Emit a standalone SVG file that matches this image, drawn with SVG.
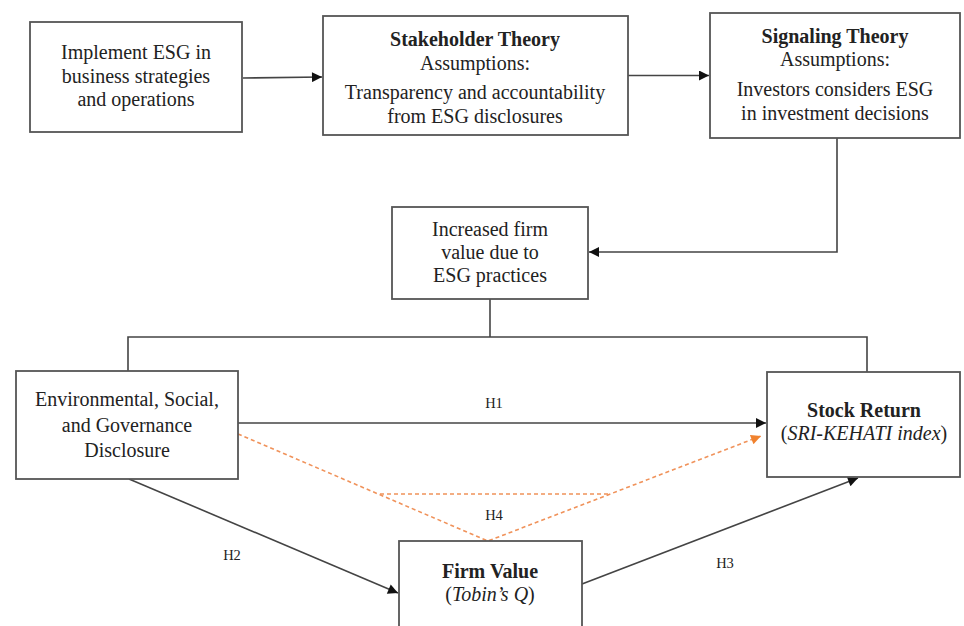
<svg xmlns="http://www.w3.org/2000/svg" width="964" height="626" viewBox="0 0 964 626">
<defs>
<style>
.box{fill:#fff;stroke:#555;stroke-width:1.8}
.t{font-family:"Liberation Serif","Times New Roman",serif;font-size:20px;fill:#222;text-anchor:middle}
.b{font-weight:bold}
.i{font-style:italic}
.h{font-family:"Liberation Serif","Times New Roman",serif;font-size:14.5px;fill:#222;text-anchor:middle}
.ln{fill:none;stroke:#444;stroke-width:1.6}
.dl{fill:none;stroke:#f0925a;stroke-width:1.6;stroke-dasharray:4 3}
</style>
<marker id="ab" viewBox="0 0 10 10" refX="10" refY="5" markerWidth="11" markerHeight="10" markerUnits="userSpaceOnUse" orient="auto"><path d="M0,0 L10,5 L0,10 z" fill="#111"/></marker>
<marker id="ao" viewBox="0 0 10 10" refX="10" refY="5" markerWidth="11" markerHeight="10" markerUnits="userSpaceOnUse" orient="auto"><path d="M0,0 L10,5 L0,10 z" fill="#f0822e"/></marker>
</defs>
<rect width="964" height="626" fill="#fff"/>
<g id="connectors">
<line class="ln" x1="243" y1="78" x2="322" y2="77" marker-end="url(#ab)"/>
<line class="ln" x1="628" y1="75.5" x2="709" y2="75.5" marker-end="url(#ab)"/>
<polyline class="ln" points="837,138 837,252 589,252" marker-end="url(#ab)"/>
<polyline class="ln" points="490,299 490,337"/>
<polyline class="ln" points="128,371 128,337 867,337 867,372"/>
<line class="ln" x1="238" y1="423" x2="766" y2="423" marker-end="url(#ab)"/>
<polyline class="dl" points="238,434 488,541 761,436" marker-end="url(#ao)"/>
<line class="dl" x1="380" y1="494" x2="608" y2="494"/>
<line class="ln" x1="129" y1="479" x2="398" y2="593" marker-end="url(#ab)"/>
<line class="ln" x1="582" y1="584" x2="858" y2="478" marker-end="url(#ab)"/>
<text class="h" x="494" y="408">H1</text>
<text class="h" x="494" y="520">H4</text>
<text class="h" x="232" y="560">H2</text>
<text class="h" x="725" y="568">H3</text>
</g>
<g id="n1">
<rect class="box" x="30" y="22" width="212" height="110"/>
<text class="t" x="136" y="59">Implement ESG in</text>
<text class="t" x="136" y="83">business strategies</text>
<text class="t" x="136" y="106">and operations</text>
</g>
<g id="n2">
<rect class="box" x="323" y="16" width="305" height="119"/>
<text class="t b" x="475" y="46">Stakeholder Theory</text>
<text class="t" x="475" y="70">Assumptions:</text>
<text class="t" x="475" y="99">Transparency and accountability</text>
<text class="t" x="475" y="123">from ESG disclosures</text>
</g>
<g id="n3">
<rect class="box" x="710" y="13" width="250" height="125"/>
<text class="t b" x="835" y="43">Signaling Theory</text>
<text class="t" x="835" y="66">Assumptions:</text>
<text class="t" x="835" y="96">Investors considers ESG</text>
<text class="t" x="835" y="120">in investment decisions</text>
</g>
<g id="n4">
<rect class="box" x="392" y="207" width="196" height="92"/>
<text class="t" x="490" y="236">Increased firm</text>
<text class="t" x="490" y="259">value due to</text>
<text class="t" x="490" y="282">ESG practices</text>
</g>
<g id="n5">
<rect class="box" x="16" y="371" width="222" height="108"/>
<text class="t" x="127" y="406">Environmental, Social,</text>
<text class="t" x="127" y="432">and Governance</text>
<text class="t" x="127" y="457">Disclosure</text>
</g>
<g id="n6">
<rect class="box" x="767" y="372" width="193" height="105"/>
<text class="t b" x="864" y="417">Stock Return</text>
<text class="t" x="864" y="440">(<tspan class="i">SRI-KEHATI index</tspan>)</text>
</g>
<g id="n7">
<rect class="box" x="399" y="541" width="183" height="95"/>
<text class="t b" x="490" y="578">Firm Value</text>
<text class="t" x="490" y="601">(<tspan class="i">Tobin’s Q</tspan>)</text>
</g>
</svg>
